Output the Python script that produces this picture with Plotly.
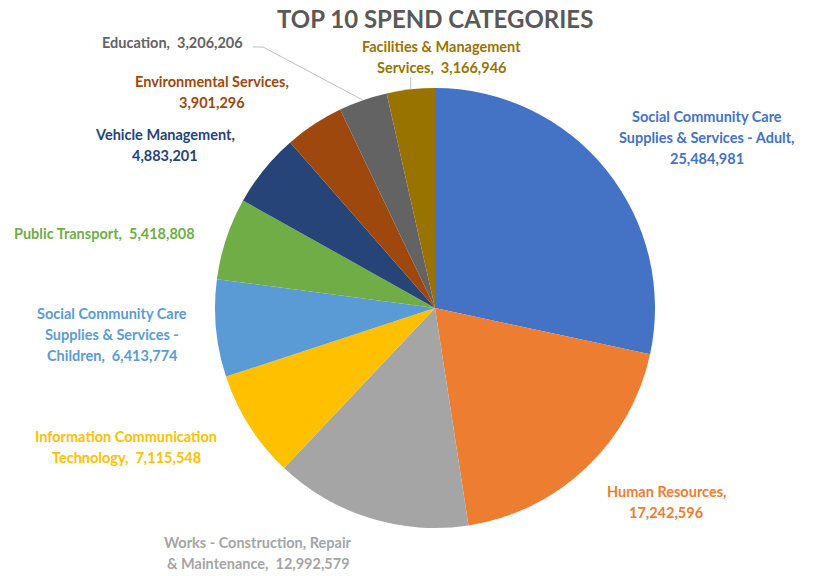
import math
import plotly.graph_objects as go

W, H = 825, 576
OFF = 8  # page body margin offset: page px = figure px + OFF

categories = [
    "Social Community Care Supplies & Services - Adult",
    "Human Resources",
    "Works - Construction, Repair & Maintenance",
    "Information Communication Technology",
    "Social Community Care Supplies & Services - Children",
    "Public Transport",
    "Vehicle Management",
    "Environmental Services",
    "Education",
    "Facilities & Management Services",
]
values = [25484981, 17242596, 12992579, 7115548, 6413774,
          5418808, 4883201, 3901296, 3206206, 3166946]
colors = ["#4472C4", "#ED7D31", "#A5A5A5", "#FFC000", "#5B9BD5",
          "#70AD47", "#264478", "#9E480E", "#636363", "#997300"]

label_names = [
    "Social Community Care<br>Supplies & Services - Adult,<br>",
    "Human Resources,<br>",
    "Works - Construction, Repair<br>& Maintenance,  ",
    "Information Communication<br>Technology,  ",
    "Social Community Care<br>Supplies & Services -<br>Children,  ",
    "Public Transport,  ",
    "Vehicle Management,<br>",
    "Environmental Services,<br>",
    "Education,  ",
    "Facilities & Management<br>Services,  ",
]
# label centre positions in page pixels
label_pos = [(707, 137), (666, 502), (258, 553), (126, 447), (112, 334),
             (104, 233), (165, 145), (212, 92), (172, 42), (442, 57)]
LINE = 21

# pie geometry in page pixels
cx, cy, R = 435, 308, 220


def fx(x):
    return (x - OFF) / W


def fy(y):
    return 1 - (y - OFF) / H


fig = go.Figure(go.Pie(
    labels=categories,
    values=values,
    sort=False,
    direction="clockwise",
    rotation=0,
    marker=dict(colors=colors, line=dict(width=0)),
    textinfo="none",
    hoverinfo="label+value",
    showlegend=False,
    domain=dict(x=[fx(cx - R), fx(cx + R)],
                y=[fy(cy + R), fy(cy - R)]),
))

font_family = "Lato"
annotations = []
for name, v, c, (px, py) in zip(label_names, values, colors, label_pos):
    lines = (name + f"{v:,}").split("<br>")
    n = len(lines)
    for k, ln in enumerate(lines):
        ly = py + (k - (n - 1) / 2) * LINE
        annotations.append(dict(
            x=fx(px), y=fy(ly), xref="paper", yref="paper",
            text="<b>" + ln + "</b>",
            showarrow=False, xanchor="center", yanchor="middle",
            align="center",
            font=dict(family=font_family, size=14.5, color=c),
        ))

total = sum(values)
cum = 0
mids = []
for v in values:
    mids.append((cum + v / 2) / total * 2 * math.pi)
    cum += v


def edge(i):
    a = mids[i]
    return cx + R * math.sin(a), cy - R * math.cos(a)


def P(x, y):
    return f"{fx(x):.5f},{fy(y):.5f}"


ex, ey = edge(8)
gx, gy = edge(9)
shapes = [
    dict(type="path", xref="paper", yref="paper",
         path=f"M{P(253, 47)} L{P(263, 47)} L{P(ex, ey)}",
         line=dict(color="#BFBFBF", width=1)),
    dict(type="path", xref="paper", yref="paper",
         path=f"M{P(gx, 77)} L{P(gx, gy)}",
         line=dict(color="#BFBFBF", width=1)),
]

fig.update_layout(
    width=W, height=H,
    margin=dict(l=0, r=0, t=0, b=0),
    paper_bgcolor="white", plot_bgcolor="white",
    annotations=annotations + [dict(
        x=fx(435), y=fy(18), xref="paper", yref="paper",
        text="<b>TOP 10 SPEND CATEGORIES</b>", showarrow=False,
        xanchor="center", yanchor="middle",
        font=dict(family=font_family, size=24, color="#595959"))],
    shapes=shapes,
)

fig.write_html("out.html")
